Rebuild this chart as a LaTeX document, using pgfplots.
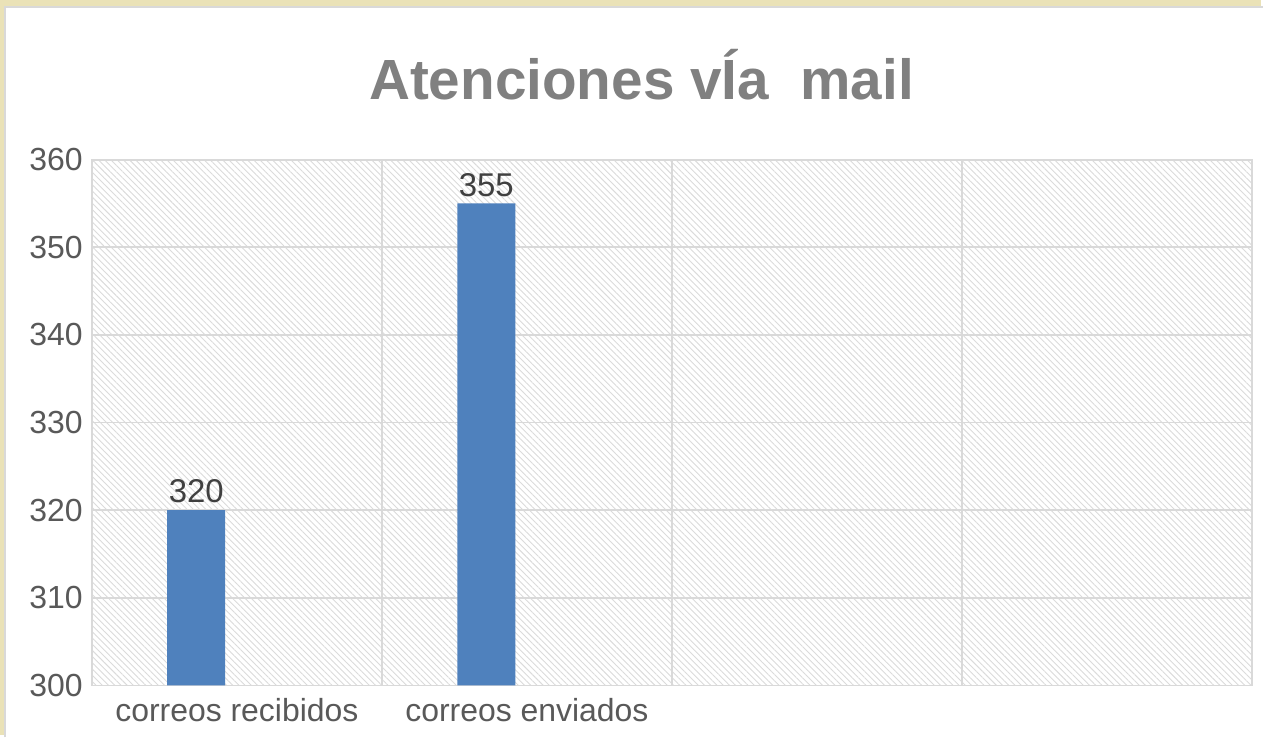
\documentclass[border=0pt]{standalone}
\usepackage{pgfplots}
\pgfplotsset{compat=1.18}
\usepackage{fontspec}
\setmainfont{Liberation Sans}
\usetikzlibrary{patterns.meta}
\definecolor{barblue}{RGB}{79,129,189}
\definecolor{framebeige}{RGB}{234,226,183}
\definecolor{gridgray}{RGB}{217,217,217}
\definecolor{ticktext}{RGB}{89,89,89}
\definecolor{valtext}{RGB}{64,64,64}
\definecolor{titlegray}{RGB}{128,128,128}

\begin{document}
\begin{tikzpicture}[x=1pt,y=1pt]
% frame round the chart area
\fill[framebeige] (0,0) rectangle (632,368.5);
\fill[white] (2.5,0) rectangle (632,365);
\draw[gridgray, line width=0.8pt] (2.5,-1) -- (2.5,365) -- (633,365);
\node[font=\bfseries\fontsize{28.4}{32}\selectfont, text=titlegray] at (321.5,331) {Atenciones vÍa\ \ mail};
\begin{axis}[
    at={(46pt,25pt)}, anchor=south west,
    scale only axis, width=581.5pt, height=263.5pt,
    xmin=-0.5, xmax=3.5,
    ymin=300, ymax=360, ytick={300,310,...,360},
    xtick={0,1}, xticklabels={correos recibidos, correos enviados},
    minor xtick={0.5,1.5,2.5},
    xminorgrids, ymajorgrids,
    grid style={gridgray, line width=0.9pt},
    minor grid style={gridgray, line width=0.9pt},
    axis line style={gridgray, line width=0.9pt},
    major tick length=0pt, minor tick length=0pt,
    tick style={draw=none},
    ticklabel style={font=\fontsize{16}{18}\selectfont, text=ticktext},
    yticklabel style={xshift=-1pt},
    xticklabel style={yshift=-3pt},
    /pgf/number format/assume math mode=true,
    axis background/.style={pattern={Lines[angle=-45, distance=2.2pt, line width=0.45pt]}, pattern color=gray!28},
    ybar, bar width=0.2, bar shift=-0.14,
    nodes near coords,
    nodes near coords style={font=\fontsize{16.5}{18}\selectfont, text=valtext},
]
\addplot[fill=barblue, draw=none] coordinates {(0,320) (1,355)};
\end{axis}
\end{tikzpicture}
\end{document}
